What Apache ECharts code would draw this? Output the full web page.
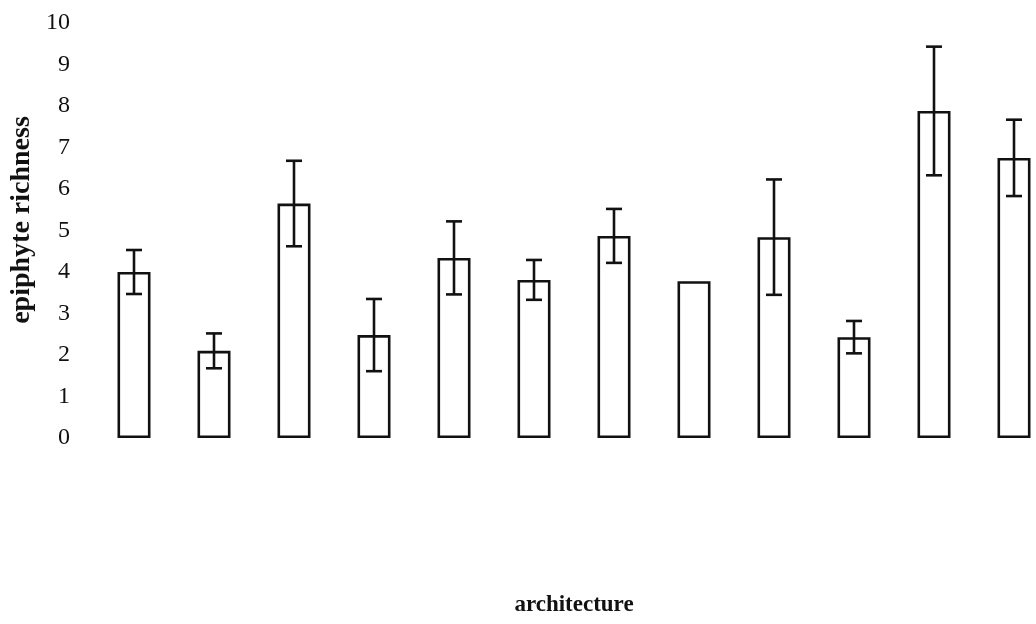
<!DOCTYPE html>
<html>
<head>
<meta charset="utf-8">
<script src="https://cdn.jsdelivr.net/npm/echarts@6/dist/echarts.min.js"></script>
<style>
  html, body { margin: 0; padding: 0; background: #fff; }
  #chart { width: 1036px; height: 624px; }
</style>
</head>
<body>
<div id="chart"></div>
<script>
// Twelve architecture classes (axis labels are not printed)
const categories = ['1', '2', '3', '4', '5', '6', '7', '8', '9', '10', '11', '12'];
// Mean epiphyte richness per class
const richness = [4.0, 2.1, 5.65, 2.48, 4.34, 3.81, 4.87, 3.78, 4.84, 2.43, 7.88, 6.75];
// Error bar half-lengths (0 = no bar drawn)
const errors = [0.53, 0.42, 1.03, 0.87, 0.88, 0.48, 0.65, 0, 1.39, 0.39, 1.55, 0.92];
// Y axis ticks
const yTicks = [0, 1, 2, 3, 4, 5, 6, 7, 8, 9, 10];

const serif = '"Liberation Serif", "DejaVu Serif", serif';

const errData = categories.map((c, i) => [i, richness[i] - errors[i], richness[i] + errors[i], errors[i]]);

const chart = echarts.init(document.getElementById('chart'));
chart.setOption({
  animation: false,
  backgroundColor: '#ffffff',
  // the last category runs slightly past the right edge of the page
  grid: { left: 94, width: 960, top: 23, bottom: 186, containLabel: false, outerBoundsMode: 'none' },
  graphic: [
    {
      type: 'text',
      x: 22,
      y: 220,
      rotation: Math.PI / 2,
      style: {
        text: 'epiphyte richness',
        fontFamily: serif,
        fontWeight: 'bold',
        fontSize: 28,
        fill: '#111',
        align: 'center',
        verticalAlign: 'middle'
      }
    }
  ],
  xAxis: {
    type: 'category',
    data: categories,
    axisLine: { show: false },
    axisTick: { show: false },
    axisLabel: { show: false },
    splitLine: { show: false },
    name: 'architecture',
    nameLocation: 'middle',
    nameGap: 156,
    nameTextStyle: { fontFamily: serif, fontWeight: 'bold', fontSize: 23, color: '#111' }
  },
  yAxis: {
    type: 'value',
    min: yTicks[0],
    max: yTicks[yTicks.length - 1],
    interval: 1,
    axisLine: { show: false },
    axisTick: { show: false },
    splitLine: { show: false },
    axisLabel: { margin: 24, fontFamily: serif, fontSize: 24, color: '#111' }
  },
  series: [
    {
      type: 'bar',
      data: richness,
      barWidth: 33,
      itemStyle: { color: '#ffffff', borderColor: '#111', borderWidth: 2.6 },
      z: 2
    },
    {
      type: 'custom',
      data: errData,
      z: 3,
      renderItem: function (params, api) {
        if (api.value(3) <= 0) return null;
        const x = api.value(0);
        const lo = api.coord([x, api.value(1)]);
        const hi = api.coord([x, api.value(2)]);
        const cap = 8;
        const style = { stroke: '#111', lineWidth: 2.6, fill: null };
        return {
          type: 'group',
          children: [
            { type: 'line', shape: { x1: hi[0], y1: hi[1], x2: lo[0], y2: lo[1] }, style: style },
            { type: 'line', shape: { x1: hi[0] - cap, y1: hi[1], x2: hi[0] + cap, y2: hi[1] }, style: style },
            { type: 'line', shape: { x1: lo[0] - cap, y1: lo[1], x2: lo[0] + cap, y2: lo[1] }, style: style }
          ]
        };
      }
    }
  ]
});
</script>
</body>
</html>
